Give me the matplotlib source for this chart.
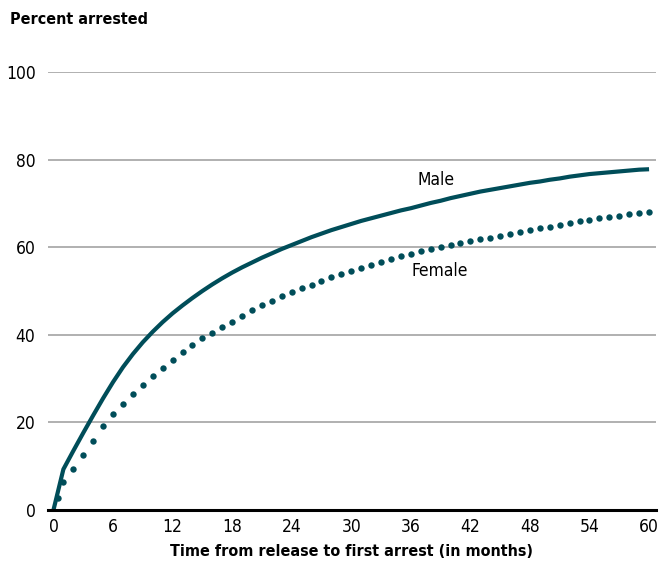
import matplotlib

matplotlib.use("Agg")
import matplotlib.pyplot as plt  # noqa: E402

months_male = list(range(0, 61))
male = [
    0, 9.3, 13.5, 17.6, 21.6, 25.5, 29.2, 32.6, 35.6, 38.3,
    40.7, 42.9, 44.9, 46.7, 48.4, 50.0, 51.5, 52.9, 54.2, 55.4,
    56.5, 57.6, 58.6, 59.6, 60.5, 61.4, 62.3, 63.1, 63.9, 64.6,
    65.3, 66.0, 66.6, 67.2, 67.8, 68.4, 68.9, 69.5, 70.1, 70.6,
    71.2, 71.7, 72.2, 72.7, 73.1, 73.5, 73.9, 74.3, 74.7, 75.0,
    75.4, 75.7, 76.1, 76.4, 76.7, 76.9, 77.1, 77.3, 77.5, 77.7,
    77.8,
]
months_female = [0.5] + list(range(1, 61))
female = [
    2.7, 6.5, 9.3, 12.6, 15.8, 19.1, 22.0, 24.1, 26.4, 28.6,
    30.6, 32.5, 34.3, 36.0, 37.7, 39.2, 40.5, 41.8, 43.0, 44.3,
    45.6, 46.7, 47.8, 48.8, 49.8, 50.6, 51.4, 52.3, 53.1, 53.8,
    54.5, 55.2, 55.9, 56.6, 57.3, 58.0, 58.5, 59.1, 59.6, 60.1,
    60.5, 60.9, 61.4, 61.8, 62.2, 62.6, 63.0, 63.5, 63.9, 64.3,
    64.7, 65.1, 65.5, 65.9, 66.2, 66.6, 66.9, 67.2, 67.6, 67.9,
    68.1,
]
x_ticks = list(range(0, 61, 6))
y_ticks = [0, 20, 40, 60, 80, 100]

TEAL = "#004d59"
plt.rcParams["font.family"] = ["DejaVu Sans"]
plt.rcParams["font.stretch"] = "condensed"

fig = plt.figure(figsize=(6.59, 5.67), dpi=100)
ax = fig.add_axes([48 / 659, 57 / 567, 608 / 659, 438 / 567])

ax.plot(months_male, male, color=TEAL, lw=3.0, solid_capstyle="butt", zorder=3, clip_on=False)
ax.plot(months_female, female, "o", color=TEAL, ms=4.6, mew=0, zorder=3, clip_on=False)

ax.set_xlim(-0.55, 60.7)
ax.set_ylim(0, 100)
ax.set_xticks(x_ticks)
ax.set_yticks(y_ticks)
ax.tick_params(length=0, labelsize=12.5, colors="black")
ax.tick_params(axis="x", pad=6)
ax.tick_params(axis="y", pad=9)
ax.yaxis.grid(True, color="#aaaaaa", lw=1.3)
ax.set_axisbelow(True)
for s in ["top", "right", "left"]:
    ax.spines[s].set_visible(False)
ax.spines["bottom"].set_linewidth(2.2)
ax.spines["bottom"].set_zorder(4)

ax.text(38.5, 75.3, "Male", fontsize=12.5, ha="center", va="center")
ax.text(38.9, 54.5, "Female", fontsize=12.5, ha="center", va="center")

fig.text(10 / 659, 1 - 20 / 567, "Percent arrested", fontsize=11.5, fontweight="bold",
         ha="left", va="center")
fig.text(352 / 659, 1 - 552 / 567, "Time from release to first arrest (in months)",
         fontsize=11.5, fontweight="bold", ha="center", va="center")

fig.savefig("out.png", dpi=100)
